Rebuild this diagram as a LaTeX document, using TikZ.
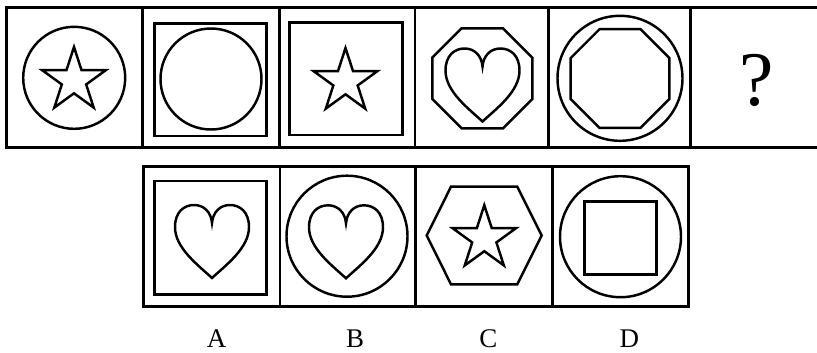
\documentclass[tikz,border=0pt]{standalone}
\usepackage{fontspec}
\setmainfont{Liberation Serif}
\usetikzlibrary{positioning}
\newcommand{\px}{0.3mm}

\begin{document}
\begin{tikzpicture}[x=0.3mm,y=-0.3mm,
  cell/.style={draw,line width=2.5pt,inner sep=0pt,outer sep=0pt,minimum height=140.4*\px},
  frame/.style={line width=2.5pt},
  fig/.style={line width=2.1pt},
  lab/.style={font=\fontsize{23}{25}\selectfont,inner sep=0pt},
  starpath/.style={insert path={(270:#1) \foreach \a in {0,72,144,216}{-- ({306+\a}:{0.382*#1}) -- ({342+\a}:#1)} -- (234:{0.382*#1}) -- cycle}},
  octpath/.style={insert path={(22.5:#1) \foreach \a in {67.5,112.5,...,337.5}{-- (\a:#1)} -- cycle}},
  heartpath/.style={insert path={(0,37) .. controls (-14,24) and (-37,7) .. (-37,-14) .. controls (-37,-29) and (-28,-36) .. (-18,-36) .. controls (-8,-36) and (-1,-29) .. (0,-18) .. controls (1,-29) and (8,-36) .. (18,-36) .. controls (28,-36) and (37,-29) .. (37,-14) .. controls (37,7) and (14,24) .. (0,37) -- cycle}}]
\useasboundingbox (0,0) rectangle (817,352);
% question row
\node[cell,minimum width=136*\px] (t1) at (74.7,77.5) {};
\node[cell,minimum width=136.6*\px,right=0pt of t1] (t2) {};
\node[cell,minimum width=135.7*\px,right=0pt of t2] (t3) {};
\node[cell,minimum width=133.3*\px,right=0pt of t3] (t4) {};
\node[cell,minimum width=142.4*\px,right=0pt of t4] (t5) {};
\coordinate (edge) at (817,77.5);
\draw[frame] (t5.north east) -- (t5.north east -| edge);
\draw[frame] (t5.south east) -- (t5.south east -| edge);
\node[font=\fontsize{66}{66}\selectfont,inner sep=0pt] (q) at (756.7,80) {?};
\draw[fig] (74.2,77.8) circle[radius=51];
\draw[fig,shift={(74,80.5)},starpath=33.5];
\draw[fig] (154.3,23.3) rectangle (266.7,136);
\draw[fig] (211,79) circle[radius=50.5];
\draw[fig] (289.3,22.7) rectangle (402.7,135);
\draw[fig,shift={(345.5,81.5)},starpath=33.5];
\draw[fig,shift={(482.3,78.3)},octpath=54.1];
\draw[fig,shift={(482.5,84.5)},heartpath];
\draw[fig] (620,78.3) circle[radius=62.5];
\draw[fig,shift={(620,78.5)},octpath=53.4];
% answer row
\node[cell,minimum height=140*\px,minimum width=136.7*\px] (b1) at (211.65,236.7) {};
\node[cell,minimum height=140*\px,minimum width=135.7*\px,right=0pt of b1] (b2) {};
\node[cell,minimum height=140*\px,minimum width=136.6*\px,right=0pt of b2] (b3) {};
\node[cell,minimum height=140*\px,minimum width=136*\px,right=0pt of b3] (b4) {};
\draw[fig] (154.3,181) rectangle (266.7,294.3);
\draw[fig,shift={(212,241)},heartpath];
\draw[fig] (347,236.2) circle[radius=60.5];
\draw[fig,shift={(346,241.3)},heartpath];
\draw[fig] (426.7,235.5) -- (451,186.7) -- (517.3,186.7) -- (541.7,235.5) -- (517.3,284.3) -- (451,284.3) -- cycle;
\draw[fig,shift={(484.3,238.5)},starpath=33.3];
\draw[fig] (620.5,236.7) circle[radius=60.5];
\draw[fig] (584.3,201.7) rectangle (656.7,274.3);
\node[lab] (la) at (216.7,338.5) {A};
\node[lab] (lb) at (355,338.5) {B};
\node[lab] (lc) at (488.3,338.5) {C};
\node[lab] (ld) at (629.3,338.5) {D};
\end{tikzpicture}
\end{document}
